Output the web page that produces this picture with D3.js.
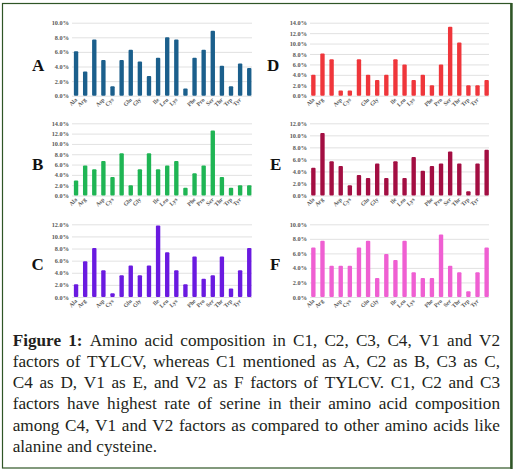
<!DOCTYPE html>
<html><head><meta charset="utf-8">
<script src="https://cdn.jsdelivr.net/npm/d3@7"></script>
<style>html,body{margin:0;padding:0;background:#fff;}svg{display:block;} svg text{font-family:"Liberation Serif","DejaVu Serif",serif;}</style>
</head><body>
<svg id="chart" width="518" height="473"></svg>
<script>
const categories = ["Ala","Arg","Asn","Asp","Cys","Gln","Glu","Gly","His","Ile","Leu","Lys","Met","Phe","Pro","Ser","Thr","Trp","Tyr","Val"];
const shownLabels = ["Ala","Arg","Asp","Cys","Glu","Gly","Ile","Leu","Lys","Phe","Pro","Ser","Thr","Trp","Tyr"];
const panelNames = ["A","B","C","D","E","F"];
const valuesA = [6.1,3.3,7.7,4.9,1.3,4.9,6.3,4.7,2.7,5.2,8.0,7.7,1.0,5.2,6.3,8.9,4.1,1.3,4.4,3.8];
const valuesB = [2.9,5.8,5.1,6.7,3.6,8.2,2.0,5.1,8.2,5.1,5.8,6.7,1.5,4.3,5.8,12.6,3.6,1.5,2.0,2.0];
const valuesC = [2.1,5.9,8.1,4.4,0.6,3.6,5.2,3.6,5.2,11.8,7.4,4.4,2.1,6.7,3.0,3.6,6.7,1.4,4.4,8.1];
const valuesD = [4.0,8.1,7.0,1.0,1.0,7.0,4.0,3.0,4.0,7.0,6.0,3.0,4.0,2.0,6.0,13.2,10.2,2.0,2.0,3.0];
const valuesE = [4.6,10.4,5.7,4.9,1.7,3.4,2.9,5.3,2.9,5.7,2.9,6.4,4.1,4.9,5.3,7.3,5.3,0.7,5.3,7.6];
const valuesF = [6.8,7.75,4.3,4.3,4.3,6.8,7.75,2.6,5.9,5.1,7.75,3.4,2.6,2.6,8.6,4.3,3.4,0.8,3.4,6.8];
const yTicksA = [0,2,4,6,8,10];
const yTicksB = [0,2,4,6,8,10,12,14];
const yTicksC = [0,2,4,6,8,10,12];
const yTicksD = [0,2,4,6,8,10,12,14];
const yTicksE = [0,2,4,6,8,10,12];
const yTicksF = [0,2,4,6,8,10];
const captionLines = [
  "Figure 1: Amino acid composition in C1, C2, C3, C4, V1 and V2",
  "factors of TYLCV, whereas C1 mentioned as A, C2 as B, C3 as C,",
  "C4 as D, V1 as E, and V2 as F factors of TYLCV. C1, C2 and C3",
  "factors have highest rate of serine in their amino acid composition",
  "among C4, V1 and V2 factors as compared to other amino acids like",
  "alanine and cysteine."
];

const svg = d3.select("#chart");
const serif = '"Liberation Serif", "DejaVu Serif", serif';

// border
svg.append("rect").attr("x",2.5).attr("y",3.5).attr("width",508.5).attr("height",464.5)
  .attr("fill","none").attr("stroke","#2f5526").attr("stroke-width",1.2);
svg.append("line").attr("x1",511.5).attr("x2",511.5).attr("y1",3).attr("y2",469)
  .attr("stroke","#2f5526").attr("stroke-width",2.4);

const panels = [
  {name:"A", values:valuesA, ticks:yTicksA, color:"#1b5f8c", col:0, row:0, lx:32, ly:70.5},
  {name:"B", values:valuesB, ticks:yTicksB, color:"#1fb554", col:0, row:1, lx:32, ly:170},
  {name:"C", values:valuesC, ticks:yTicksC, color:"#6a1ae0", col:0, row:2, lx:31.5, ly:270},
  {name:"D", values:valuesD, ticks:yTicksD, color:"#ef363b", col:1, row:0, lx:267, ly:70.5},
  {name:"E", values:valuesE, ticks:yTicksE, color:"#a30e42", col:1, row:1, lx:270, ly:169.5},
  {name:"F", values:valuesF, ticks:yTicksF, color:"#ef5fd2", col:1, row:2, lx:270, ly:270}
];
const colX = [[71.5,253.8],[308.8,491.2]];
const gridX = [[72,252],[310,489]];
const rowY = [[22.7,95.7],[123.3,195.5],[224.3,297]];

panels.forEach(p => {
  const g = svg.append("g");
  const x = d3.scaleBand().domain(categories).range(colX[p.col]).paddingInner(0.52).paddingOuter(0.26);
  const y = d3.scaleLinear().domain([0, d3.max(p.ticks)]).range([rowY[p.row][1], rowY[p.row][0]]);
  const gx0 = gridX[p.col][0], gx1 = gridX[p.col][1];

  const ya = g.append("g").attr("transform",`translate(${gx0},0)`)
    .call(d3.axisLeft(y).tickValues(p.ticks).tickSize(-(gx1-gx0)).tickPadding(3)
      .tickFormat(d => d.toFixed(1) + "%"));
  ya.attr("font-family", null);
  ya.select(".domain").remove();
  ya.selectAll(".tick line").attr("stroke","#d9d9d9").attr("stroke-width",0.8);
  ya.selectAll(".tick text").style("font-family",serif).style("font-size","6.3px")
    .style("font-weight","bold").attr("fill","#595959");

  g.selectAll(".bar").data(p.values).join("rect")
    .attr("x",(d,i)=>x(categories[i]))
    .attr("width",x.bandwidth())
    .attr("y",d=>y(d))
    .attr("height",d=>y(0)-y(d))
    .attr("rx",1).attr("fill",p.color);

  const xa = g.append("g").attr("transform",`translate(0,${y(0)})`)
    .call(d3.axisBottom(x).tickSize(0).tickPadding(0)
      .tickFormat(d => shownLabels.includes(d) ? d : ""));
  xa.attr("font-family", null);
  xa.select(".domain").remove();
  xa.selectAll(".tick text")
    .style("font-family",serif).style("font-size","5.8px").style("font-weight","bold").attr("fill","#595959")
    .attr("text-anchor","end").attr("dy",0).attr("y",0)
    .attr("transform","translate(1.5,4.5) rotate(-45)");

  svg.append("text").attr("x",p.lx).attr("y",p.ly).text(p.name)
    .style("font-family",serif).style("font-size","17px").style("font-weight","bold").attr("fill","#111");
});

// caption, justified manually
const capLeft = 12.7, capRight = 500, capTop = 345.5, capStep = 21.3;
captionLines.forEach((line, li) => {
  const words = line.split(" ");
  const yPos = capTop + li * capStep;
  const nodes = words.map((w, wi) => {
    const bold = (li === 0 && wi < 2);
    return svg.append("text").attr("y", yPos).text(w)
      .style("font-family",serif).style("font-size","17.2px")
      .style("font-weight", bold ? "bold" : "normal").attr("fill","#231f20");
  });
  const widths = nodes.map(n => n.node().getComputedTextLength());
  const total = d3.sum(widths);
  const last = li === captionLines.length - 1;
  const gap = last ? 4.6 : (capRight - capLeft - total) / (words.length - 1);
  let cx = capLeft;
  nodes.forEach((n, i) => { n.attr("x", cx); cx += widths[i] + gap; });
});
</script>
</body></html>
